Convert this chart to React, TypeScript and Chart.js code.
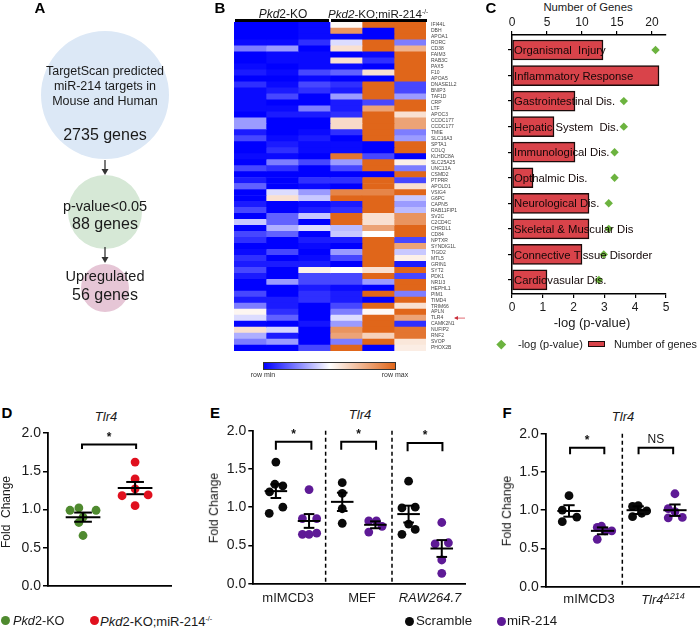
import { useEffect, useRef } from 'react';
import { Chart, registerables } from 'chart.js';

Chart.register(...registerables);
Chart.defaults.font.family = '"Liberation Sans", Arial, sans-serif';
Chart.defaults.color = '#1a1a1a';

const FONT = '"Liberation Sans", Arial, sans-serif';

// Panel A
const flowX = [105, 105, 105];
const flowY = [95, 212, 288];
const flowRadius = [64, 37, 24];
const flowColors = ['#dce8f6', '#d6e8d6', '#e6c6d6'];
const flowArrows = [[160, 175], [247, 263]];

// Panel B
const genes = ['IFI44L', 'DBH', 'APOA1', 'RORC', 'CD38', 'FAIM3', 'RAB3C', 'PAX5', 'F10', 'APOA5', 'DNASE1L2', 'BNIP3', 'TAF1D', 'CRP', 'LTF', 'APOC3', 'CCDC177', 'CCDC177', 'TMIE', 'SLC16A3', 'SPTA1', 'COLQ', 'KLHDC8A', 'SLC25A25', 'UNC13A', 'CSMD2', 'PTPRR', 'APOLD1', 'VSIG4', 'G6PC', 'CAPN5', 'RAB11FIP1', 'SV2C', 'C2CD4C', 'CHRDL1', 'CD84', 'NPTXR', 'SYNDIG1L', 'TIGD2', 'MTL5', 'GRIN1', 'SYT2', 'PDK1', 'NR1I3', 'HEPHL1', 'PIM1', 'TIMD4', 'TRIM66', 'APLN', 'TLR4', 'CAMK2N1', 'NUFIP2', 'RNF2', 'SVOP', 'PHOX2B'];
// 0 = row min, 0.5 = white, 1 = row max
const heatRows = [
  [0, 0, 0.05, 0.52, 1, 1],
  [0, 0, 0.05, 0.85, 0, 1],
  [0, 0, 0.05, 0.03, 0, 1],
  [0.05, 0.05, 0.15, 0.45, 1, 0.3],
  [0.3, 0.35, 0, 0.6, 1, 0.75],
  [0, 0.05, 0.05, 0, 0.05, 1],
  [0, 0.05, 0.05, 0.6, 0.15, 1],
  [0.05, 0, 0.05, 0.05, 0, 1],
  [0.1, 0.05, 0.2, 0.25, 0.6, 1],
  [0, 0, 0.05, 0, 0, 1],
  [0.15, 0.05, 0.2, 0.15, 1, 0.2],
  [0.05, 0.1, 0.15, 0.1, 1, 0.2],
  [0.05, 0.2, 0, 0.35, 1, 0.35],
  [0.05, 0, 0, 0.1, 0.2, 1],
  [0.05, 0.05, 0.3, 0.1, 0.8, 1],
  [0, 0.1, 0.1, 0.15, 1, 0.6],
  [0.35, 0, 0, 0.62, 1, 0.8],
  [0.35, 0, 0, 0.62, 1, 0.8],
  [0.1, 0, 0.05, 0.15, 1, 0.3],
  [0.2, 0.05, 0.1, 0, 1, 0.35],
  [0, 0.1, 0.05, 0.05, 0, 1],
  [0, 0.15, 0.05, 0.05, 0, 1],
  [0.05, 0.05, 0, 0.95, 0.2, 0],
  [0, 0.3, 0.2, 0.35, 1, 0.55],
  [0.2, 0.15, 0, 0.2, 1, 0.3],
  [0, 0, 0, 0, 0, 1],
  [0.1, 0, 0.15, 0.15, 1, 0.2],
  [0.25, 0, 0.05, 0, 1, 0.6],
  [0, 0.45, 0.35, 0.9, 0.9, 1],
  [0, 0.6, 0.42, 1, 1, 0.42],
  [0.1, 0, 0.05, 0.1, 1, 0.35],
  [0.2, 0, 0.1, 0.15, 1, 0.4],
  [0, 0.25, 0.42, 1, 0.6, 0.85],
  [0.42, 0.25, 0, 1, 0.6, 0.85],
  [0, 0.38, 0.45, 0.4, 0.8, 1],
  [0.2, 0.25, 0, 0.42, 0.5, 1],
  [0.15, 0, 0.1, 0.1, 1, 0.2],
  [0, 0, 0.05, 0, 1, 0.8],
  [0.05, 0.2, 0, 0.35, 1, 0.42],
  [0.15, 0, 0.05, 0.2, 1, 0.55],
  [0.1, 0.1, 0.1, 0, 1, 0.1],
  [0.2, 0, 0.55, 0.5, 0.6, 1],
  [0.1, 0, 0.2, 0.2, 1, 0.2],
  [0, 0.35, 0.2, 0.2, 0.35, 1],
  [0, 0, 0.1, 0.05, 0, 1],
  [0.2, 0, 0.15, 0.1, 1, 0.3],
  [0.1, 0.1, 0.15, 0.1, 0, 1],
  [0.3, 0.1, 0, 0.2, 1, 0.6],
  [0.53, 0.15, 0, 0.3, 0.52, 1],
  [0.45, 0.25, 0, 0.45, 1, 0.8],
  [0.03, 0, 0.08, 0.35, 1, 0.15],
  [0.6, 0.44, 0, 0.85, 1, 0.95],
  [0.38, 0.1, 0, 0.8, 0.65, 0.95],
  [0.3, 0.35, 0, 0.3, 1, 0.58],
  [0, 0, 0.2, 1, 0, 0.56],
];
const heatColumns = [0, 1, 2, 3, 4, 5];

// Panel C
const diseases = ['Organismal  Injury', 'Inflammatory Response', 'Gastrointestinal Dis.', 'Hepatic System  Dis.', 'Immunological Dis.', 'Opthalmic Dis.', 'Neurological Dis.', 'Skeletal & Muscular Dis', 'Connective Tissue Disorder', 'Cardiovasular Dis.'];
const geneCounts = [13, 21, 9, 6, 9, 3, 11, 11, 10, 5];
const logP = [4.66, 3.63, 3.63, 3.63, 3.33, 3.33, 3.14, 3.14, 2.98, 2.82];

// Panel D
const dKo = [0.99, 1.02, 0.99, 0.83, 0.66, 0.9];
const dKoJitter = [-0.25, -0.08, 0.25, -0.08, 0, 0];
const dMir = [1.62, 1.4, 1.18, 1.19, 1.05, 1.27];
const dMirJitter = [0, 0, -0.25, 0.25, 0, 0];
const dCenters = [1, 2];
const dMeans = [0.9, 1.28];
const dSems = [0.06, 0.08];

// Panel E
const eScrambleA = [1.59, 1.3, 1.28, 1.2, 1.0, 0.92];
const eScrambleAJitter = [0, -0.03, 0.21, -0.19, 0.21, -0.2];
const eMirA = [1.23, 0.85, 0.85, 0.645, 0.645, 0.66];
const eMirAJitter = [0, -0.2, 0.23, -0.2, 0, 0.23];
const eScrambleB = [1.32, 1.18, 0.98, 0.79];
const eScrambleBJitter = [0, 0, 0, 0];
const eMirB = [0.82, 0.82, 0.75, 0.675];
const eMirBJitter = [-0.2, 0.03, 0.2, -0.2];
const eScrambleC = [1.34, 0.99, 1.0, 0.78, 0.71, 0.645];
const eScrambleCJitter = [0, -0.2, 0.2, 0, 0.2, -0.2];
const eMirC = [0.8, 0.52, 0.535, 0.31, 0.135];
const eMirCJitter = [0, -0.2, 0.2, 0, 0];
const eCenters = [1, 2, 3, 4, 5, 6];
const eMeans = [1.21, 0.82, 1.07, 0.77, 0.91, 0.46];
const eSems = [0.09, 0.09, 0.12, 0.045, 0.11, 0.11];
const eDividers = [2.5, 4.5];

// Panel F
const fScrambleA = [1.19, 0.85, 0.91, 1.0];
const fScrambleAJitter = [0, -0.19, 0.22, -0.19];
const fMirA = [0.775, 0.79, 0.73, 0.62, 0.73];
const fMirAJitter = [-0.15, -0.03, 0.26, -0.15, 0.07];
const fScrambleB = [1.05, 1.06, 0.915, 0.99, 0.96];
const fScrambleBJitter = [-0.16, 0, -0.16, 0.24, 0.1];
const fMirB = [1.215, 1.02, 0.9, 0.905, 0.98];
const fMirBJitter = [0, -0.19, -0.19, 0.21, 0];
const fCenters = [1, 1.95, 2.96, 4];
const fMeans = [0.99, 0.73, 1.0, 1.0];
const fSems = [0.075, 0.045, 0.05, 0.075];
const fDividers = [2.51];

const GREEN = '#4f8a2f';
const RED = '#e0101e';
const BLACK = '#0a0a0a';
const PURPLE = '#5e1a96';

function heatColor(v: number) {
  const mix = (a: number[], b: number[], t: number) =>
    'rgb(' + a.map((c, i) => Math.round(c + (b[i] - c) * t)).join(',') + ')';
  return v <= 0.5
    ? mix([0, 0, 255], [255, 255, 255], Math.pow(v * 2, 1.4))
    : mix([255, 255, 255], [224, 102, 26], (v - 0.5) * 2);
}

// fixes an axis to a given width and drops the label overhang chart.js adds at its ends
const fixWidth = (width: number) => (s: any) => {
  s.width = width;
  s.paddingTop = 0;
  s.paddingBottom = 0;
};
const fixHeight = (height: number) => (s: any) => {
  s.height = height;
  s.paddingLeft = 0;
  s.paddingRight = 0;
};

function dots(center: number, values: number[], jitter: number[], color: string) {
  return {
    data: values.map((y, i) => ({ x: center + jitter[i], y })),
    backgroundColor: color,
    pointRadius: 4.4,
    pointBorderWidth: 0,
    pointHoverRadius: 4.4,
  };
}

// mean and s.e.m. lines, significance brackets and dashed dividers
function statsPlugin(opts: any) {
  return {
    id: 'stats',
    afterDatasetsDraw(chart: any) {
      const { ctx, scales } = chart;
      const sx = (v: number) => scales.x.getPixelForValue(v);
      const sy = (v: number) => scales.y.getPixelForValue(v);
      ctx.save();
      ctx.strokeStyle = '#000';
      ctx.lineWidth = 1.5;
      ctx.setLineDash([4, 3]);
      (opts.dividers || []).forEach((d: number) => {
        ctx.beginPath();
        ctx.moveTo(sx(d), sy(2));
        ctx.lineTo(sx(d), sy(0));
        ctx.stroke();
      });
      ctx.setLineDash([]);
      ctx.lineWidth = 2;
      opts.centers.forEach((c: number, i: number) => {
        const m = opts.means[i];
        const s = opts.sems[i];
        const seg = (x1: number, y1: number, x2: number, y2: number) => {
          ctx.beginPath();
          ctx.moveTo(sx(x1), sy(y1));
          ctx.lineTo(sx(x2), sy(y2));
          ctx.stroke();
        };
        seg(c - opts.barHalf, m, c + opts.barHalf, m);
        seg(c - opts.capHalf, m + s, c + opts.capHalf, m + s);
        seg(c - opts.capHalf, m - s, c + opts.capHalf, m - s);
        seg(c, m - s, c, m + s);
      });
      opts.brackets.forEach((b: any) => {
        ctx.beginPath();
        ctx.moveTo(sx(b.from), sy(b.low));
        ctx.lineTo(sx(b.from), sy(b.high));
        ctx.lineTo(sx(b.to), sy(b.high));
        ctx.lineTo(sx(b.to), sy(b.low));
        ctx.stroke();
        ctx.fillStyle = '#111';
        ctx.textAlign = 'center';
        ctx.textBaseline = 'middle';
        ctx.font = b.label === '*' ? 'bold 12px ' + FONT : '12px ' + FONT;
        ctx.fillText(b.label, sx((b.from + b.to) / 2), sy(b.high) - (b.label === '*' ? 7 : 8));
      });
      ctx.restore();
    },
  };
}

function dotConfig(datasets: any[], xMin: number, xMax: number, axisWidth: number, pad: any, stats: any) {
  return {
    type: 'scatter',
    data: { datasets },
    options: {
      responsive: false,
      animation: false,
      layout: { padding: pad, autoPadding: false },
      plugins: { legend: { display: false }, tooltip: { enabled: false } },
      scales: {
        x: {
          type: 'linear',
          min: xMin,
          max: xMax,
          afterFit: fixHeight(0),
          ticks: { display: false },
          border: { color: '#000', width: 1.8 },
          grid: { display: true, drawOnChartArea: false, drawTicks: false },
        },
        y: {
          min: 0,
          max: 2,
          afterFit: fixWidth(axisWidth),
          ticks: { stepSize: 0.5, font: { size: 14 }, padding: 2, callback: (v: any) => Number(v).toFixed(1) },
          border: { color: '#000', width: 1.8 },
          grid: { drawOnChartArea: false, color: '#000', lineWidth: 1.5, tickLength: 5 },
        },
      },
    },
    plugins: [statsPlugin(stats)],
  };
}

const flowConfig = {
  type: 'bubble',
  data: {
    datasets: [{
      data: flowX.map((x, i) => ({ x, y: flowY[i], r: flowRadius[i] })),
      backgroundColor: flowColors,
      borderWidth: 0,
    }],
  },
  options: {
    responsive: false,
    animation: false,
    layout: { autoPadding: false },
    plugins: { legend: { display: false }, tooltip: { enabled: false } },
    scales: {
      x: { display: false, min: 0, max: 230 },
      y: { display: false, min: 0, max: 330, reverse: true },
    },
  },
  plugins: [{
    id: 'arrows',
    afterDatasetsDraw(chart: any) {
      const { ctx, scales } = chart;
      const x = scales.x.getPixelForValue(flowX[0]);
      ctx.save();
      ctx.strokeStyle = '#333';
      ctx.fillStyle = '#333';
      ctx.lineWidth = 1.3;
      flowArrows.forEach(([a, b]) => {
        const y1 = scales.y.getPixelForValue(a);
        const y2 = scales.y.getPixelForValue(b);
        ctx.beginPath();
        ctx.moveTo(x, y1);
        ctx.lineTo(x, y2 - 4);
        ctx.stroke();
        ctx.beginPath();
        ctx.moveTo(x - 3.5, y2 - 6);
        ctx.lineTo(x + 3.5, y2 - 6);
        ctx.lineTo(x, y2);
        ctx.closePath();
        ctx.fill();
      });
      ctx.restore();
    },
  }],
};

const heatConfig = {
  type: 'bar',
  data: {
    labels: genes,
    datasets: heatColumns.map((c) => ({
      data: genes.map(() => 1),
      backgroundColor: heatRows.map((r) => heatColor(r[c])),
      borderWidth: 0,
      barPercentage: 1,
      categoryPercentage: 1,
    })),
  },
  options: {
    indexAxis: 'y',
    responsive: false,
    animation: false,
    layout: { autoPadding: false },
    plugins: { legend: { display: false }, tooltip: { enabled: false } },
    scales: {
      x: { stacked: true, display: false, min: 0, max: 6 },
      y: {
        stacked: true,
        position: 'right',
        afterFit: fixWidth(48),
        border: { display: false },
        grid: { display: false, drawTicks: false },
        ticks: { autoSkip: false, font: { size: 5 }, color: '#444', padding: 5 },
      },
    },
  },
  plugins: [{
    id: 'tlrArrow',
    afterDraw(chart: any) {
      const { ctx, scales } = chart;
      const y = scales.y.getPixelForValue(genes.indexOf('TLR4'));
      const x = scales.x.right + 29;
      ctx.save();
      ctx.strokeStyle = '#d9444f';
      ctx.fillStyle = '#c9303c';
      ctx.lineWidth = 0.8;
      ctx.beginPath();
      ctx.moveTo(x, y);
      ctx.lineTo(x + 10, y);
      ctx.stroke();
      ctx.beginPath();
      ctx.moveTo(x - 1, y);
      ctx.lineTo(x + 3, y - 2);
      ctx.lineTo(x + 3, y + 2);
      ctx.closePath();
      ctx.fill();
      ctx.restore();
    },
  }],
};

const diseaseConfig = {
  type: 'bar',
  data: {
    datasets: [
      {
        type: 'scatter',
        indexAxis: 'y',
        xAxisID: 'x',
        yAxisID: 'y',
        data: logP.map((x, i) => ({ x, y: i })),
        pointStyle: 'rectRot',
        pointRadius: 4.2,
        pointBorderWidth: 0,
        backgroundColor: '#6cb33f',
        order: 2,
      },
      {
        type: 'bar',
        indexAxis: 'y',
        xAxisID: 'x2',
        yAxisID: 'y',
        data: geneCounts.map((x, i) => ({ x, y: i })),
        barThickness: 20,
        backgroundColor: '#d9434a',
        borderColor: '#1a0a0a',
        borderWidth: 1.5,
        borderSkipped: false,
        order: 1,
      },
    ],
  },
  options: {
    indexAxis: 'y',
    responsive: false,
    animation: false,
    layout: { padding: { right: 34 }, autoPadding: false },
    plugins: { legend: { display: false }, tooltip: { enabled: false } },
    scales: {
      x: {
        type: 'linear',
        position: 'bottom',
        min: 0,
        max: 5,
        afterFit: fixHeight(22),
        ticks: { stepSize: 1, font: { size: 12 }, padding: 2 },
        border: { color: '#000', width: 1.5 },
        grid: { drawOnChartArea: false, color: '#000', lineWidth: 1.2, tickLength: 4 },
      },
      x2: {
        type: 'linear',
        axis: 'x',
        position: 'top',
        min: 0,
        max: 22,
        afterFit: fixHeight(35),
        ticks: { stepSize: 5, includeBounds: false, font: { size: 12 }, padding: 1 },
        border: { color: '#000', width: 1.5 },
        grid: { drawOnChartArea: false, color: '#000', lineWidth: 1.2, tickLength: 4 },
      },
      y: {
        type: 'linear',
        reverse: true,
        offset: false,
        min: -0.587,
        max: 9.55,
        afterBuildTicks: (s: any) => { s.ticks = diseases.map((_, i) => ({ value: i })); },
        afterFit: fixWidth(22),
        ticks: { display: false },
        border: { color: '#000', width: 1.5 },
        grid: { offset: false, drawOnChartArea: false, color: '#000', lineWidth: 1.2, tickLength: 4 },
      },
    },
  },
  plugins: [{
    id: 'diseaseNames',
    // keep the top axis flush with the plot area
    afterLayout(chart: any) {
      const top = chart.scales.x2;
      top.bottom = chart.chartArea.top;
      top.top = top.bottom - top.height;
    },
    afterDatasetsDraw(chart: any) {
      const { ctx, scales } = chart;
      ctx.save();
      ctx.font = '11.3px ' + FONT;
      ctx.fillStyle = '#140808';
      ctx.textAlign = 'left';
      ctx.textBaseline = 'middle';
      diseases.forEach((name, i) => {
        ctx.fillText(name, scales.x.left + 2, scales.y.getPixelForValue(i) + 1);
      });
      ctx.restore();
    },
  }],
};

const dConfig = dotConfig(
  [dots(dCenters[0], dKo, dKoJitter, GREEN), dots(dCenters[1], dMir, dMirJitter, RED)],
  0.327, 2.69, 48, { top: 13, right: 9, bottom: 10 },
  { centers: dCenters, means: dMeans, sems: dSems, barHalf: 0.333, capHalf: 0.17, brackets: [{ from: 0.98, to: 2.02, high: 1.85, low: 1.79, label: '*' }] },
);

const eConfig = dotConfig(
  [
    dots(eCenters[0], eScrambleA, eScrambleAJitter, BLACK),
    dots(eCenters[1], eMirA, eMirAJitter, PURPLE),
    dots(eCenters[2], eScrambleB, eScrambleBJitter, BLACK),
    dots(eCenters[3], eMirB, eMirBJitter, PURPLE),
    dots(eCenters[4], eScrambleC, eScrambleCJitter, BLACK),
    dots(eCenters[5], eMirC, eMirCJitter, PURPLE),
  ],
  0.32, 6.7, 53.3, { top: 12.7, right: 5, bottom: 10.3 },
  {
    centers: eCenters, means: eMeans, sems: eSems, barHalf: 0.34, capHalf: 0.16, dividers: eDividers,
    brackets: [
      { from: 1, to: 2.07, high: 1.855, low: 1.75, label: '*' },
      { from: 2.97, to: 4.02, high: 1.855, low: 1.75, label: '*' },
      { from: 4.97, to: 6.02, high: 1.84, low: 1.73, label: '*' },
    ],
  },
);

const fConfig = dotConfig(
  [
    dots(fCenters[0], fScrambleA, fScrambleAJitter, BLACK),
    dots(fCenters[1], fMirA, fMirAJitter, PURPLE),
    dots(fCenters[2], fScrambleB, fScrambleBJitter, BLACK),
    dots(fCenters[3], fMirB, fMirBJitter, PURPLE),
  ],
  0.34, 4.71, 45.7, { top: 13.7, right: 0, bottom: 10.3 },
  {
    centers: fCenters, means: fMeans, sems: fSems, barHalf: 0.33, capHalf: 0.16, dividers: fDividers,
    brackets: [
      { from: 1.03, to: 2.0, high: 1.815, low: 1.73, label: '*' },
      { from: 2.97, to: 3.95, high: 1.815, low: 1.73, label: 'NS' },
    ],
  },
);

function ChartCanvas({ left, top, width, height, config }: any) {
  const canvasRef = useRef<HTMLCanvasElement>(null);

  useEffect(() => {
    if (!canvasRef.current) return;
    const chart = new Chart(canvasRef.current, config);
    return () => chart.destroy();
  }, [config]);

  return (
    <canvas
      ref={canvasRef}
      width={width}
      height={height}
      style={{ position: 'absolute', left, top, width, height }}
    />
  );
}

function Text({ x, y, size = 12, bold, italic, color = '#1a1a1a', rotate, align = 'center', children }: any) {
  const shift = align === 'center' ? '-50%' : '0';
  return (
    <div
      style={{
        position: 'absolute',
        left: x,
        top: y,
        transform: `translate(${shift}, -50%)${rotate ? ` rotate(${rotate}deg)` : ''}`,
        font: `${italic ? 'italic ' : ''}${bold ? 'bold ' : ''}${size}px ${FONT}`,
        color,
        whiteSpace: 'pre',
        lineHeight: 1,
      }}
    >
      {children}
    </div>
  );
}

function Dot({ x, y, color }: any) {
  return <div style={{ position: 'absolute', left: x - 4.5, top: y - 4.5, width: 9, height: 9, borderRadius: '50%', background: color }} />;
}

const sup = { fontSize: '0.55em', verticalAlign: '0.6em', fontStyle: 'normal' };

export default function App() {
  return (
    <div style={{ position: 'absolute', left: 0, top: 0, width: 700, height: 628, overflow: 'hidden', background: '#fff' }}>
      <ChartCanvas left={0} top={0} width={230} height={330} config={flowConfig} />
      <Text x={40} y={7} size={15} bold color="#000">A</Text>
      <Text x={105} y={71} size={12.5}>TargetScan predicted</Text>
      <Text x={105} y={86} size={12.5}>miR-214 targets in</Text>
      <Text x={105} y={101} size={12.5}>Mouse and Human</Text>
      <Text x={105} y={135} size={16}>2735 genes</Text>
      <Text x={105} y={206} size={14.5}>p-value&lt;0.05</Text>
      <Text x={105} y={224} size={16}>88 genes</Text>
      <Text x={105} y={276} size={14.5}>Upregulated</Text>
      <Text x={105} y={295} size={16}>56 genes</Text>

      <Text x={220} y={7} size={15} bold color="#000">B</Text>
      <Text x={283} y={14} size={12}><i>Pkd</i>2-KO</Text>
      <Text x={378} y={14} size={11.6}><i>Pkd2</i>-KO;miR-214<span style={sup}>-/-</span></Text>
      <div style={{ position: 'absolute', left: 235, top: 19, width: 94, height: 2.5, background: '#000' }} />
      <div style={{ position: 'absolute', left: 331, top: 19, width: 96, height: 2.5, background: '#000' }} />
      <ChartCanvas left={234} top={22} width={240} height={329} config={heatConfig} />
      <div style={{ position: 'absolute', left: 263, top: 362, width: 133, height: 8, border: '0.5px solid #333', boxSizing: 'border-box', background: 'linear-gradient(to right, #0000ff, #ffffff 50%, #e0661a)' }} />
      <Text x={263} y={374} size={7} color="#333">row min</Text>
      <Text x={395} y={374} size={7} color="#333">row max</Text>

      <Text x={491} y={7} size={15} bold color="#000">C</Text>
      <Text x={588} y={8} size={11.3}>Number of Genes</Text>
      <ChartCanvas left={490} top={0} width={210} height={316} config={diseaseConfig} />
      <Text x={592} y={322} size={13}>-log (p-value)</Text>
      <div style={{ position: 'absolute', left: 497.5, top: 340.5, width: 6.5, height: 6.5, background: '#6cb33f', transform: 'rotate(45deg)' }} />
      <Text x={518} y={344} size={11} align="left">-log (p-value)</Text>
      <div style={{ position: 'absolute', left: 588, top: 341, width: 17, height: 6, background: '#d9434a', border: '1.5px solid #1a0a0a', boxSizing: 'border-box' }} />
      <Text x={614} y={344} size={10.8} align="left">Number of genes</Text>

      <Text x={7} y={412} size={15} bold color="#000">D</Text>
      <Text x={106} y={416} size={13} italic>Tlr4</Text>
      <ChartCanvas left={0} top={420} width={180} height={176} config={dConfig} />
      <Text x={6} y={512} size={12} rotate={-90}>Fold  Change</Text>
      <Dot x={5} y={620} color={GREEN} />
      <Text x={13} y={621} size={12.7} align="left"><i>Pkd</i>2-KO</Text>
      <Dot x={94} y={620} color={RED} />
      <Text x={100} y={621} size={13} align="left"><i>Pkd</i>2-KO;miR-214<span style={sup}>-/-</span></Text>

      <Text x={215} y={412} size={15} bold color="#000">E</Text>
      <Text x={360} y={414} size={13} italic>Tlr4</Text>
      <ChartCanvas left={200} top={418} width={270} height={176} config={eConfig} />
      <Text x={214} y={508} size={12.3} rotate={-90}>Fold Change</Text>
      <Text x={288} y={597} size={13}>mIMCD3</Text>
      <Text x={362} y={597} size={13}>MEF</Text>
      <Text x={430} y={597} size={13} italic>RAW264.7</Text>
      <Dot x={409} y={621} color={BLACK} />
      <Text x={416} y={621} size={13.3} align="left">Scramble</Text>
      <Dot x={501} y={621} color={PURPLE} />
      <Text x={507} y={621} size={13.3} align="left">miR-214</Text>

      <Text x={507} y={412} size={15} bold color="#000">F</Text>
      <Text x={623} y={416} size={13} italic>Tlr4</Text>
      <ChartCanvas left={500} top={420} width={200} height={177} config={fConfig} />
      <Text x={507} y={511} size={12.3} rotate={-90}>Fold Change</Text>
      <Text x={589} y={598} size={13}>mIMCD3</Text>
      <Text x={663} y={599} size={13} italic>Tlr4<span style={{ fontSize: '0.7em', verticalAlign: '0.45em' }}>Δ214</span></Text>
    </div>
  );
}
